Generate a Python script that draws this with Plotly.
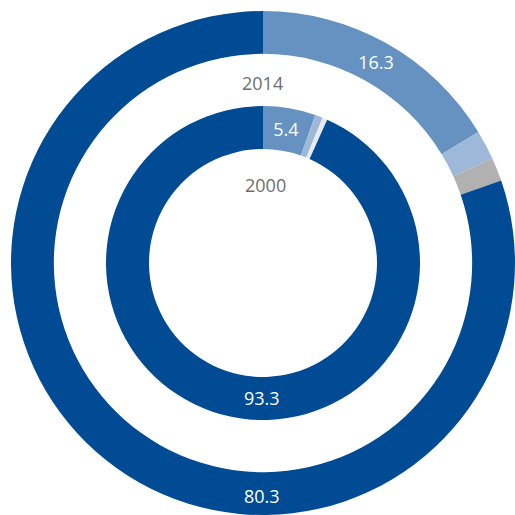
import plotly.graph_objects as go

W = H = 515

years = ["2014", "2000"]
categories = ["A", "B", "C", "D"]
values_2014 = [16.3, 1.9, 1.5, 80.3]
values_2000 = [5.4, 0.8, 0.5, 93.3]
colors_2014 = ["#6592C0", "#9DB8D9", "#B1B1B1", "#004B93"]
colors_2000 = ["#6592C0", "#9DB8D9", "#E6EBF1", "#004B93"]
shown_2014 = [True, False, False, False]
shown_2000 = [True, False, False, False]

FONT = "Open Sans"

def px_dom(x0, x1, y0, y1):
    # pixel box (from top-left) -> paper domain
    return dict(x=[x0 / W, min(x1 / W, 1)], y=[max(1 - y1 / H, 0), 1 - y0 / H])

fig = go.Figure()

fig.add_trace(go.Pie(
    labels=categories, values=values_2014, sort=False, direction="clockwise",
    rotation=0, hole=0.83,
    marker=dict(colors=colors_2014, line=dict(width=0)),
    texttemplate=["%{value}" if s else "" for s in shown_2014],
    textposition="inside", insidetextorientation="horizontal",
    textfont=dict(family=FONT, size=18, color="#FFFFFF"),
    domain=px_dom(11, 515, 11, 515), showlegend=False, hoverinfo="none",
))

fig.add_trace(go.Pie(
    labels=categories, values=values_2000, sort=False, direction="clockwise",
    rotation=0, hole=0.726,
    marker=dict(colors=colors_2000, line=dict(width=0)),
    texttemplate=["%{value}" if s else "" for s in shown_2000],
    textposition="inside", insidetextorientation="horizontal",
    textfont=dict(family=FONT, size=18, color="#FFFFFF"),
    domain=px_dom(106, 420, 106, 420), showlegend=False, hoverinfo="none",
))

def ann(text, x, y, color):
    fig.add_annotation(text=text, x=x / W, y=1 - y / H, xref="paper", yref="paper",
                       showarrow=False, xanchor="center", yanchor="middle",
                       font=dict(family=FONT, size=18, color=color))

ann(years[0], 262, 83, "#6E6E6E")
ann(years[1], 265, 185, "#6E6E6E")
ann(str(values_2000[3]), 262, 398, "#FFFFFF")
ann(str(values_2014[3]), 262, 496, "#FFFFFF")

fig.update_layout(width=W, height=H, margin=dict(l=0, r=0, t=0, b=0),
                  paper_bgcolor="white", plot_bgcolor="white")

fig.write_html("out.html", config={"displayModeBar": False, "staticPlot": True},
               post_script="document.body.style.margin='0';document.body.style.overflow='hidden';")
